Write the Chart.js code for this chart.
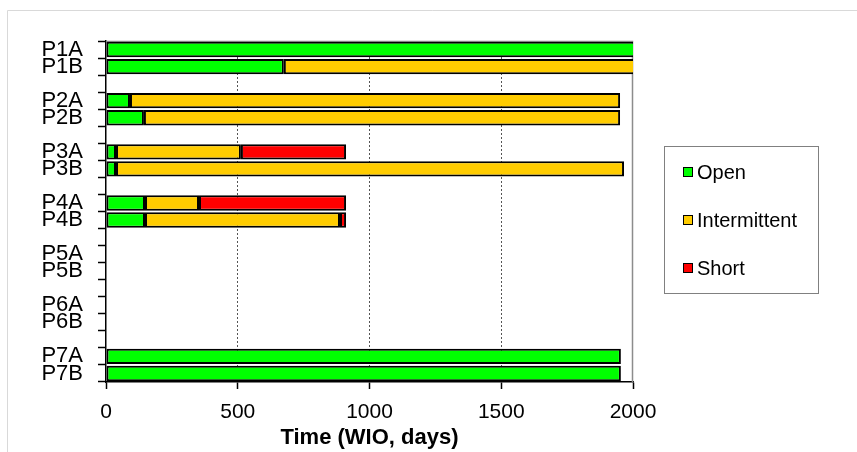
<!DOCTYPE html>
<html>
<head>
<meta charset="utf-8">
<script src="https://cdn.jsdelivr.net/npm/chart.js@4/dist/chart.umd.min.js"></script>
<style>
  html, body { margin: 0; padding: 0; background: #ffffff; }
  #wrap { width: 857px; height: 452px; position: relative; }
</style>
</head>
<body>
<div id="wrap"><canvas id="c" width="857" height="452"></canvas></div>
<script>
// ---- data ----
const categories = ['P1A','P1B','','P2A','P2B','','P3A','P3B','','P4A','P4B','','P5A','P5B','','P6A','P6B','','P7A','P7B'];
const openDays         = [2020, 675, null,   91,  144, null,  38,   38, null, 148, 148, null, null, null, null, null, null, null, 1954, 1954];
const intermittentDays = [null, 1345, null, 1860, 1807, null, 474, 1928, null, 205, 740, null, null, null, null, null, null, null, null, null];
const shortDays        = [null, null, null, null, null, null, 399, null, null, 558,  23, null, null, null, null, null, null, null, null, null];
const seriesNames = ['Open', 'Intermittent', 'Short'];
const xTicks = [0, 500, 1000, 1500, 2000];
const axisTitle = 'Time (WIO, days)';

const FAMILY = '"Liberation Sans", Arial, sans-serif';
const colors = ['#00FF00', '#FFCC00', '#FF0000'];

const frameAndLegend = {
  id: 'frameAndLegend',
  beforeDatasetsDraw(chart) {
    const ctx = chart.ctx, a = chart.chartArea;
    ctx.save();
    ctx.strokeStyle = '#8c8c8c';
    ctx.lineWidth = 1.5;
    ctx.beginPath();
    ctx.moveTo(a.left, a.top + 0.5);
    ctx.lineTo(a.right - 0.5, a.top + 0.5);
    ctx.lineTo(a.right - 0.5, a.bottom);
    ctx.stroke();
    ctx.restore();
  },
  afterDraw(chart) {
    const ctx = chart.ctx;
    ctx.save();
    // outer chart frame
    ctx.strokeStyle = '#d9d9d9';
    ctx.lineWidth = 1;
    ctx.beginPath();
    ctx.moveTo(7.5, 452);
    ctx.lineTo(7.5, 10.5);
    ctx.lineTo(857, 10.5);
    ctx.stroke();
    // legend box
    ctx.strokeStyle = '#808080';
    ctx.lineWidth = 1;
    ctx.strokeRect(664.5, 146.5, 154, 147);
    const ys = [172, 220, 268];
    ctx.font = '20px ' + FAMILY;
    ctx.textBaseline = 'middle';
    ctx.textAlign = 'left';
    chart.data.datasets.forEach((ds, i) => {
      ctx.fillStyle = ds.backgroundColor;
      ctx.fillRect(684, ys[i] - 4, 8, 8);
      ctx.strokeStyle = '#000';
      ctx.lineWidth = 1;
      ctx.strokeRect(683.5, ys[i] - 4.5, 9, 9);
      ctx.fillStyle = '#000';
      ctx.fillText(ds.label, 697, ys[i] + 1);
    });
    ctx.restore();
  }
};

const mk = (i, data) => ({
  label: seriesNames[i],
  data: data,
  backgroundColor: colors[i],
  borderColor: '#000',
  borderWidth: 2,
  borderSkipped: false,
  barPercentage: 0.9,
  categoryPercentage: 1.0,
  clip: 0
});

new Chart(document.getElementById('c'), {
  type: 'bar',
  data: {
    labels: categories,
    datasets: [mk(0, openDays), mk(1, intermittentDays), mk(2, shortDays)]
  },
  options: {
    indexAxis: 'y',
    responsive: false,
    animation: false,
    layout: { padding: { left: 0, top: 41, right: 224, bottom: 0 } },
    plugins: { legend: { display: false }, tooltip: { enabled: false } },
    scales: {
      x: {
        type: 'linear', min: 0, max: 2000, stacked: true,
        afterBuildTicks: s => { s.ticks = xTicks.map(v => ({ value: v })); },
        ticks: { font: { size: 21, family: FAMILY }, color: '#000', padding: 11, maxRotation: 0,
                 callback: v => String(v) },
        grid: {
          color: c => (c.tick && (c.tick.value === 0 || c.tick.value === 2000)) ? 'rgba(0,0,0,0)' : '#555',
          lineWidth: 1, drawTicks: true, tickLength: 7, tickColor: '#000', tickWidth: 1.5
        },
        border: { display: true, color: '#000', width: 1.5, dash: [2, 2] },
        title: { display: true, text: axisTitle, font: { size: 22, weight: 'bold', family: FAMILY }, color: '#000', padding: { top: 0, bottom: 1 } },
        afterFit: s => { s.height = 70; }
      },
      y: {
        type: 'category', stacked: true, offset: true,
        ticks: { font: { size: 22, family: FAMILY }, color: '#000', padding: 15, autoSkip: false },
        grid: { offset: true, drawOnChartArea: false, drawTicks: true, tickLength: 8, tickColor: '#000', tickWidth: 1.5 },
        border: { display: true, color: '#000', width: 1.5 },
        afterFit: s => { s.width = 106; }
      }
    }
  },
  plugins: [frameAndLegend]
});
</script>
</body>
</html>
